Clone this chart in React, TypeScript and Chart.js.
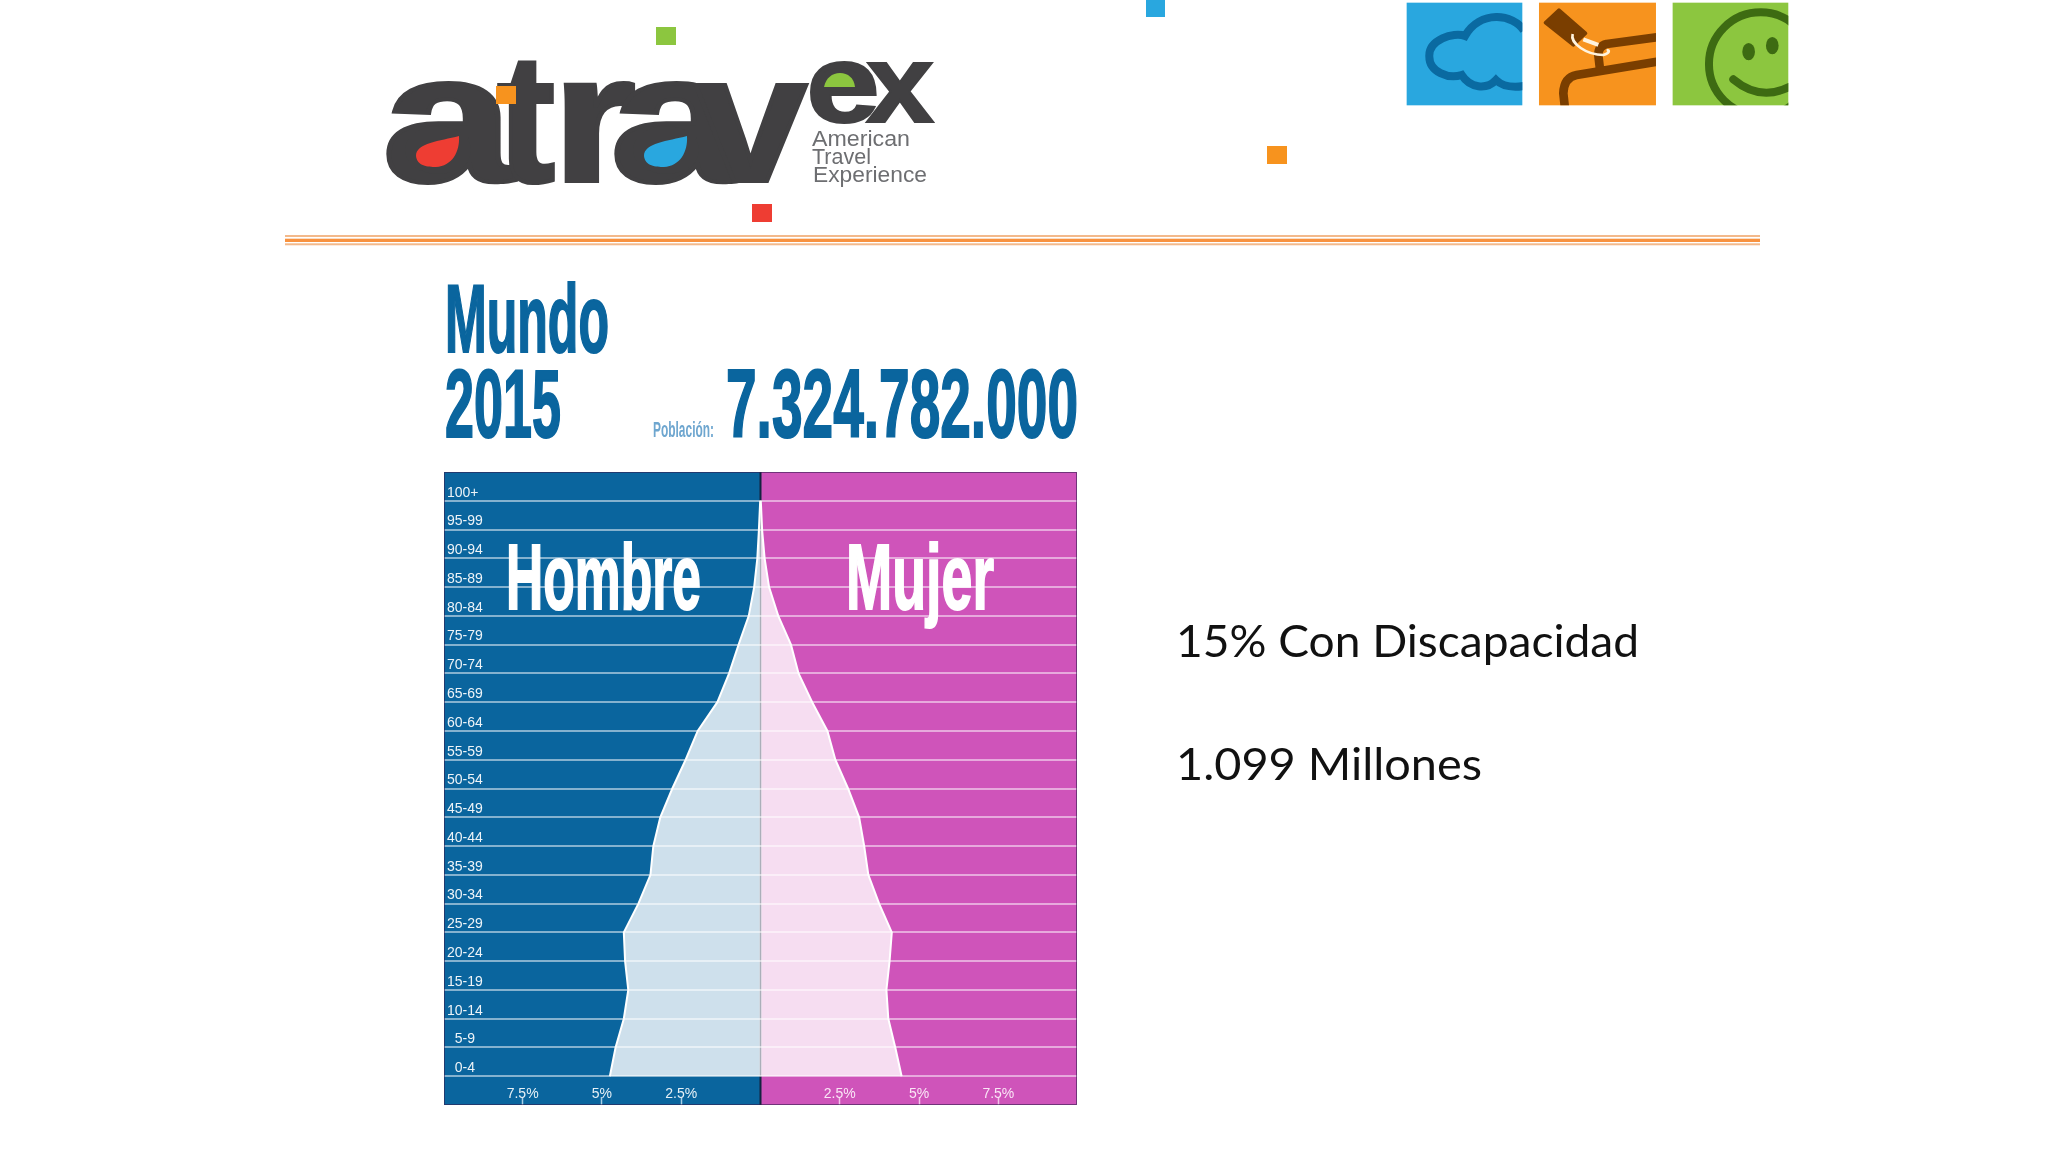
import React, { useEffect, useRef } from "react";
import { Chart, registerables } from "chart.js";

Chart.register(...registerables);

const ageLabels = [" ", "100+", "95-99", "90-94", "85-89", "80-84", "75-79", "70-74", "65-69", "60-64", "55-59", "50-54", "45-49", "40-44", "35-39", "30-34", "25-29", "20-24", "15-19", "10-14", "5-9", "0-4", " "];
const malePct = [null, 0.01, 0.05, 0.1, 0.2, 0.37, 0.69, 0.99, 1.36, 1.98, 2.36, 2.78, 3.16, 3.38, 3.47, 3.85, 4.31, 4.27, 4.17, 4.31, 4.57, 4.75, null];
const femalePct = [null, 0.01, 0.05, 0.13, 0.27, 0.56, 0.96, 1.2, 1.63, 2.11, 2.36, 2.76, 3.11, 3.27, 3.4, 3.74, 4.14, 4.07, 3.97, 4.03, 4.25, 4.45, null];
const xTickValues = [-7.5, -5, -2.5, 2.5, 5, 7.5];
const axisMax = 9.98;

const SANS = '"Liberation Sans", Arial, sans-serif';
const BLUE = "#0a659e";
const MAGENTA = "#cf54ba";

const panelPlugin = {
  id: "panel",
  beforeDraw(chart: any) {
    const { ctx, chartArea: a, scales } = chart;
    const mid = scales.x.getPixelForValue(0);
    ctx.save();
    ctx.fillStyle = BLUE;
    ctx.fillRect(a.left, a.top, mid - a.left, a.bottom - a.top);
    ctx.fillStyle = MAGENTA;
    ctx.fillRect(mid, a.top, a.right - mid, a.bottom - a.top);
    ctx.restore();
  },
  beforeDatasetsDraw(chart: any) {
    const { ctx, chartArea: a, scales } = chart;
    const mid = scales.x.getPixelForValue(0);
    ctx.save();
    ctx.strokeStyle = "#14233f";
    ctx.lineWidth = 2;
    ctx.beginPath();
    ctx.moveTo(mid, a.top);
    ctx.lineTo(mid, a.bottom);
    ctx.stroke();
    ctx.restore();
  },
  afterDraw(chart: any) {
    const { ctx, chartArea: a } = chart;
    ctx.save();
    ctx.strokeStyle = "rgba(50,30,80,0.6)";
    ctx.lineWidth = 1;
    ctx.strokeRect(a.left + 0.5, a.top + 0.5, a.right - a.left - 1, a.bottom - a.top - 1);
    ctx.restore();
  },
};

function Label(p: { x: number; y: number; w: number; size: number; fill: string; font?: string; weight?: number | string; stroke?: string; sw?: number; children: string }) {
  return (
    <text
      x={p.x}
      y={p.y}
      textLength={p.w}
      lengthAdjust="spacingAndGlyphs"
      fontSize={p.size}
      fill={p.fill}
      fontFamily={p.font ?? SANS}
      fontWeight={p.weight ?? "bold"}
      stroke={p.stroke}
      strokeWidth={p.sw}
    >
      {p.children}
    </text>
  );
}

function Overlay() {
  const dark = "#414042";
  return (
    <svg width={2048} height={1152} viewBox="0 0 2048 1152" style={{ position: "fixed", left: 0, top: 0, pointerEvents: "none" }}>
      <defs>
        <clipPath id="c1"><rect x={50} y={8} width={347} height={308} /></clipPath>
        <clipPath id="c2"><rect x={447} y={8} width={351} height={308} /></clipPath>
        <clipPath id="c3"><rect x={848} y={8} width={347} height={308} /></clipPath>
      </defs>

      {/* logo */}
      <Label x={382} y={181} w={132} size={182} fill={dark} stroke={dark} sw={4}>a</Label>
      <Label x={497} y={181} w={58} size={182} fill={dark} stroke={dark} sw={4}>t</Label>
      <Label x={552} y={181} w={84} size={182} fill={dark} stroke={dark} sw={4}>r</Label>
      <Label x={610} y={181} w={132} size={182} fill={dark} stroke={dark} sw={4}>a</Label>
      <Label x={695} y={181} w={112} size={182} fill={dark} stroke={dark} sw={4}>v</Label>
      <Label x={806} y={122} w={74} size={112} fill={dark} stroke={dark} sw={2}>e</Label>
      <Label x={866} y={122} w={68} size={112} fill={dark} stroke={dark} sw={2}>x</Label>
      <ellipse cx={438} cy={150} rx={33} ry={24} fill={dark} />
      <ellipse cx={666} cy={150} rx={33} ry={24} fill={dark} />
      <ellipse cx={840} cy={80} rx={20} ry={12} fill={dark} />
      <path d="M459 136 C440 141 416 143 416 156 C417 166 428 167 436 167 C452 166 460 152 459 136 Z" fill="#ee3d33" />
      <path d="M687 136 C668 141 644 143 644 156 C645 166 656 167 664 167 C680 166 688 152 687 136 Z" fill="#29a7df" />
      <path d="M824 87 C826 78 832 73 840 73 C848 73 854 78 855 87 Z" fill="#8cc63f" />
      <rect x={496} y={86} width={20} height={18} fill="#f7931e" />
      <rect x={656} y={27} width={20} height={18} fill="#8cc63f" />
      <rect x={752} y={204} width={20} height={18} fill="#ee3d33" />
      <rect x={1146} y={0} width={19} height={17} fill="#29a7df" />
      <rect x={1267} y={146} width={20} height={18} fill="#f7931e" />
      <Label x={812} y={146} w={98} size={22} fill="#6d6e71" weight="normal">American</Label>
      <Label x={812} y={164} w={59} size={22} fill="#6d6e71" weight="normal">Travel</Label>
      <Label x={813} y={182} w={114} size={22} fill="#6d6e71" weight="normal">Experience</Label>

      {/* icons, sketched in zoom coordinates */}
      <g transform="translate(1390,0) scale(0.3333)">
        <rect x={50} y={8} width={347} height={308} fill="#29a7df" />
        <g clipPath="url(#c1)" fill="none" stroke="#0a6aa1" strokeWidth={24}>
          <path d="M402,92 C370,40 270,30 225,108 C190,95 115,120 118,170 C118,215 175,238 215,225 C240,265 290,270 318,240 C340,262 375,262 402,258" />
        </g>
        <rect x={447} y={8} width={351} height={308} fill="#f7931e" />
        <g clipPath="url(#c2)" fill="none" strokeLinejoin="round">
          <path d="M800,112 L650,132 Q625,138 625,165 L630,208" stroke="#7a3e00" strokeWidth={26} />
          <path d="M800,185 L560,225 Q522,232 520,280 L525,325" stroke="#7a3e00" strokeWidth={26} />
          <path d="M507,30 L466,68 L550,135 L587,100 Z" fill="#7a3e00" stroke="#7a3e00" strokeWidth={10} />
          <path d="M548,102 C540,130 590,165 640,165 C660,160 660,150 650,150" stroke="#fff3dd" strokeWidth={8} />
          <path d="M580,118 L625,135" stroke="#fff3dd" strokeWidth={12} />
        </g>
        <rect x={848} y={8} width={347} height={308} fill="#8cc63f" />
        <g clipPath="url(#c3)" fill="none" stroke="#3d6b12" strokeWidth={24} strokeLinecap="round">
          <circle cx={1112} cy={192} r={155} />
          <path d="M1030,238 Q1110,305 1200,260" />
          <ellipse cx={1076} cy={155} rx={19} ry={26} fill="#3d6b12" stroke="none" />
          <ellipse cx={1147} cy={137} rx={19} ry={26} fill="#3d6b12" stroke="none" />
        </g>
      </g>

      {/* divider */}
      <rect x={285} y={235} width={1475} height={2} fill="#f3b98b" />
      <rect x={285} y={238.7} width={1475} height={3.3} fill="#f8923f" />
      <rect x={285} y={243.3} width={1475} height={2} fill="#f3b98b" />

      {/* headings */}
      <Label x={445} y={352} w={164} size={96} fill={BLUE} stroke={BLUE} sw={2}>Mundo</Label>
      <Label x={445} y={437} w={116} size={96} fill={BLUE} stroke={BLUE} sw={2}>2015</Label>
      <Label x={726} y={437} w={352} size={96} fill={BLUE} stroke={BLUE} sw={2}>7.324.782.000</Label>
      <Label x={653} y={437} w={61} size={22} fill="#6ea6cf">Población:</Label>

      {/* sex labels over the chart */}
      <Label x={506} y={609} w={195} size={93} fill="#ffffff" stroke="#ffffff" sw={2}>Hombre</Label>
      <Label x={846} y={609} w={148} size={93} fill="#ffffff" stroke="#ffffff" sw={2}>Mujer</Label>

      {/* side notes */}
      <Label x={1176} y={657} w={463} size={45} fill="#111111" font="Lato, sans-serif" weight="normal">15% Con Discapacidad</Label>
      <Label x={1176} y={780} w={306} size={45} fill="#111111" font="Lato, sans-serif" weight="normal">1.099 Millones</Label>
    </svg>
  );
}

export default function App() {
  const ref = useRef<HTMLCanvasElement | null>(null);

  useEffect(() => {
    const chart = new Chart(ref.current as HTMLCanvasElement, {
      type: "line",
      data: {
        labels: ageLabels,
        datasets: [
          { label: "Hombre", data: malePct.map((v) => (v === null ? null : -v)), borderColor: "#ffffff", backgroundColor: "rgba(255,255,255,0.8)", borderWidth: 2, pointRadius: 0, tension: 0, fill: "origin" },
          { label: "Mujer", data: femalePct, borderColor: "#ffffff", backgroundColor: "rgba(255,255,255,0.8)", borderWidth: 2, pointRadius: 0, tension: 0, fill: "origin" },
        ],
      } as any,
      options: {
        indexAxis: "y",
        responsive: false,
        animation: false,
        layout: { padding: { left: 444, top: 472, right: 971, bottom: 47 } },
        plugins: { legend: { display: false }, tooltip: { enabled: false }, title: { display: false } },
        scales: {
          x: {
            type: "linear",
            min: -axisMax,
            max: axisMax,
            position: "bottom",
            afterBuildTicks: (s: any) => {
              s.ticks = xTickValues.map((value) => ({ value }));
            },
            afterFit: (s: any) => {
              s.height = 0;
            },
            border: { display: false },
            grid: {
              z: 1,
              drawOnChartArea: false,
              drawTicks: true,
              tickLength: -8,
              tickWidth: 1.5,
              tickColor: (c: any) => ((c.tick?.value ?? 0) < 0 ? "#a9cfe6" : "#f3c4ea"),
            },
            ticks: {
              z: 2,
              autoSkip: false,
              maxRotation: 0,
              mirror: true,
              padding: 2,
              color: (c: any) => ((c.tick?.value ?? 0) < 0 ? "#e6f0f6" : "#fae6f6"),
              font: { family: SANS, size: 14 },
              callback: (v: any) => `${Math.abs(Number(v))}%`,
            },
          },
          y: {
            type: "category",
            offset: false,
            afterFit: (s: any) => {
              s.width = 0;
            },
            border: { display: false },
            grid: {
              z: 1,
              drawTicks: false,
              lineWidth: 2,
              color: (c: any) => (c.index === 0 || c.index === ageLabels.length - 1 ? "rgba(0,0,0,0)" : "rgba(255,255,255,0.5)"),
            },
            ticks: {
              z: 2,
              autoSkip: false,
              mirror: true,
              padding: 3,
              labelOffset: -8,
              color: "#eef4f8",
              font: { family: SANS, size: 14 },
              callback(this: any, v: any) {
                const t = String(this.getLabelForValue(v));
                return t.length === 3 ? `\u2007${t}` : t;
              },
            },
          },
        },
      } as any,
      plugins: [panelPlugin],
    } as any);
    return () => chart.destroy();
  }, []);

  return (
    <div style={{ position: "fixed", left: 0, top: 0, width: 2048, height: 1152, background: "#ffffff" }}>
      <canvas ref={ref} width={2048} height={1152} style={{ position: "absolute", left: 0, top: 0, width: 2048, height: 1152 }} />
      <Overlay />
    </div>
  );
}
